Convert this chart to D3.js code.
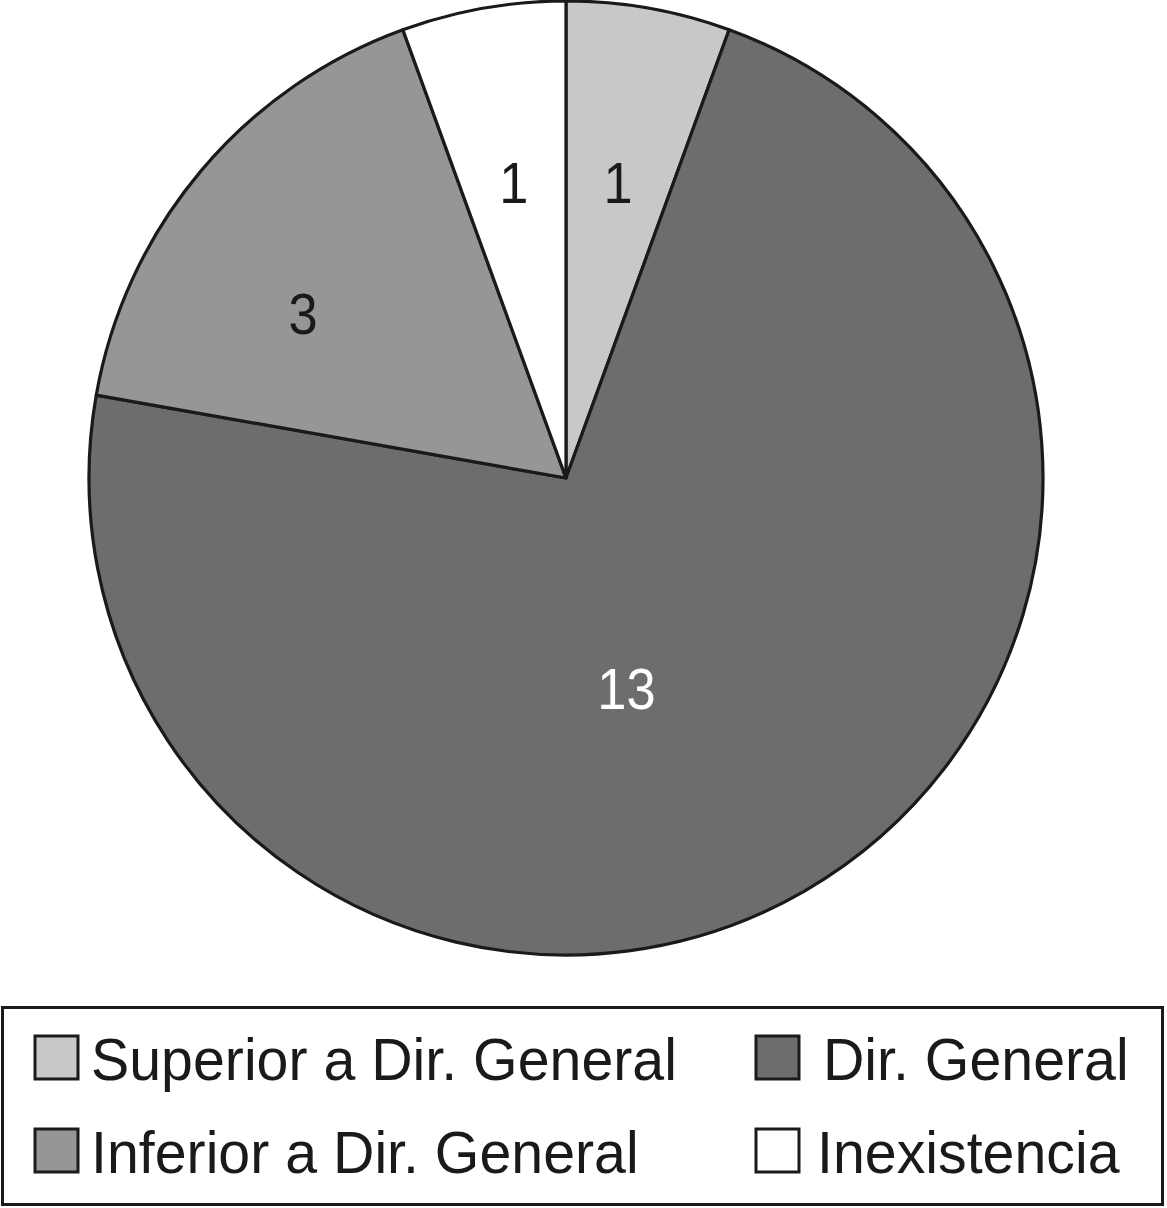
<!DOCTYPE html>
<html>
<head>
<meta charset="utf-8">
<script src="https://cdn.jsdelivr.net/npm/d3@7"></script>
<style>
  html, body { margin: 0; padding: 0; background: #fff; }
  svg { display: block; }
  text { font-family: "Liberation Sans", Arial, Helvetica, sans-serif; }
</style>
</head>
<body>
<svg id="chart" width="1167" height="1208"></svg>
<script>
// ---- data ----
const categories = ["Superior a Dir. General", "Dir. General", "Inferior a Dir. General", "Inexistencia"];
const values = [1, 13, 3, 1];
const colors = ["#c8c8c8", "#6d6d6d", "#969696", "#ffffff"];
const labelColors = ["#1a1a1a", "#ffffff", "#1a1a1a", "#1a1a1a"];

// ---- layout ----
const W = 1167, H = 1208;
const cx = 566, cy = 478, R = 477;
const stroke = "#1a1a1a";
// label placement (polar, relative to slice mid-angle / radius)
const labelAngleShift = [0, 14, -8, 0];    // degrees
const labelRadiusFrac = [0.63, 0.46, 0.65, 0.63];

const svg = d3.select("#chart");

const pie = d3.pie().sort(null).value(d => d)
  .startAngle(0).endAngle(2 * Math.PI);
const arcs = pie(values);
const arc = d3.arc().innerRadius(0).outerRadius(R);

const g = svg.append("g").attr("transform", `translate(${cx},${cy})`);

g.selectAll("path.slice")
  .data(arcs)
  .join("path")
  .attr("class", "slice")
  .attr("d", arc)
  .attr("fill", (d, i) => colors[i])
  .attr("stroke", stroke)
  .attr("stroke-width", 3.2)
  .attr("stroke-linejoin", "round");

g.selectAll("text.val")
  .data(arcs)
  .join("text")
  .attr("class", "val")
  .attr("transform", (d, i) => {
    const mid = (d.startAngle + d.endAngle) / 2 + labelAngleShift[i] * Math.PI / 180;
    const p = d3.pointRadial(mid, R * labelRadiusFrac[i]);
    return `translate(${p[0]},${p[1]}) scale(0.92,1)`;
  })
  .attr("text-anchor", "middle")
  .attr("dy", "0.36em")
  .attr("font-size", 57)
  .attr("fill", (d, i) => labelColors[i])
  .text(d => d.data);

// ---- legend ----
const legend = svg.append("g");
legend.append("rect")
  .attr("x", 2.5).attr("y", 1007.5)
  .attr("width", 1160)
  .attr("height", 197)
  .attr("fill", "#fff")
  .attr("stroke", stroke)
  .attr("stroke-width", 3);

const colX = d3.scaleOrdinal().domain([0, 1]).range([35, 756]);
const rowY = d3.scaleOrdinal().domain([0, 1]).range([1036, 1129]);
const sw = 43;

const items = legend.selectAll("g.item")
  .data(categories)
  .join("g")
  .attr("class", "item")
  .attr("transform", (d, i) => `translate(${colX(i % 2)},${rowY(Math.floor(i / 2))})`);

items.append("rect")
  .attr("width", sw).attr("height", sw)
  .attr("fill", (d, i) => colors[i])
  .attr("stroke", stroke)
  .attr("stroke-width", 3);

items.append("text")
  .attr("transform", (d, i) => `translate(${i === 1 ? 67 : (i === 3 ? 61 : 56)},44) scale(0.955,1)`)
  .attr("font-size", 60)
  .attr("fill", "#1a1a1a")
  .text(d => d);
</script>
</body>
</html>
